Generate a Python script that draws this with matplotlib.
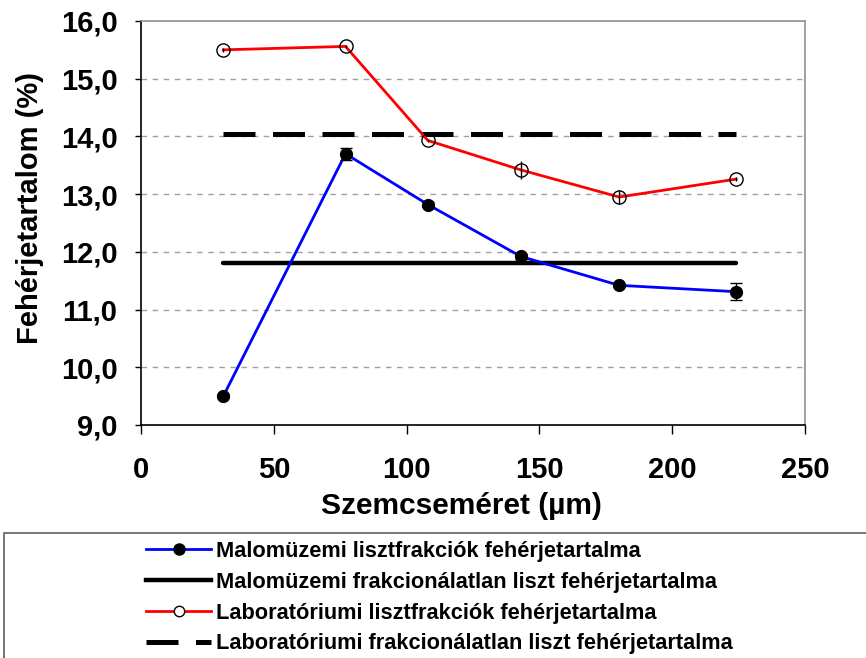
import matplotlib
matplotlib.use("Agg")
import matplotlib.pyplot as plt
import matplotlib.ticker as ticker
from matplotlib.patches import Rectangle
from matplotlib.lines import Line2D

# ---- data
particle_size = [31, 77, 108, 143, 180, 224]

mill_protein = [9.50, 13.70, 12.82, 11.92, 11.42, 11.31]
mill_err = [0.03, 0.10, 0.05, 0.04, 0.03, 0.15]

lab_protein = [15.50, 15.56, 13.93, 13.42, 12.95, 13.26]
lab_err = [0.03, 0.03, 0.03, 0.15, 0.12, 0.03]

mill_unfractionated = 11.80
lab_unfractionated = 14.05

labels = ["Malomüzemi lisztfrakciók fehérjetartalma",
          "Malomüzemi frakcionálatlan liszt fehérjetartalma",
          "Laboratóriumi lisztfrakciók fehérjetartalma",
          "Laboratóriumi frakcionálatlan liszt fehérjetartalma"]

###########################################################################

plt.rcParams['font.family'] = ['Liberation Sans', 'DejaVu Sans']
plt.rcParams['font.weight'] = 'bold'

W, H = 866, 658
fig = plt.figure(figsize=(W / 100, H / 100), dpi=100)
ax = fig.add_axes([141 / W, 1 - 425 / H, (805 - 141) / W, (425 - 21) / H])

# horizontal reference lines (unfractionated flour)
ax.plot([particle_size[0], particle_size[-1]], [mill_unfractionated] * 2,
        color='black', lw=3.2, solid_capstyle='round', zorder=3)
ax.plot([particle_size[0], particle_size[-1]], [lab_unfractionated] * 2,
        color='black', lw=3.6, dashes=(6.4, 3.5), zorder=3)

# fractions
ax.plot(particle_size, mill_protein, color='blue', lw=2.0, zorder=4)
ax.errorbar(particle_size, mill_protein, yerr=mill_err, fmt='o', color='black',
            ms=8.5, ecolor='black', elinewidth=1, capsize=4, capthick=1, zorder=5)

ax.plot(particle_size, lab_protein, color='red', lw=2.0, zorder=4)
ax.errorbar(particle_size, lab_protein, yerr=lab_err, fmt='o', mfc='none',
            mec='black', mew=1, ms=9.5, ecolor='black', elinewidth=1,
            capsize=0, zorder=5)

ax.set_xlim(0, 250)
ax.set_ylim(9, 16)
ax.xaxis.set_major_locator(ticker.MultipleLocator(50))
ax.yaxis.set_major_locator(ticker.MultipleLocator(1))
ax.yaxis.set_major_formatter(ticker.FuncFormatter(lambda v, p: ('%.1f' % v).replace('.', ',')))
ax.tick_params(axis='both', labelsize=21, direction='out', width=1, color='black')
ax.tick_params(axis='y', length=4.5, pad=12.5)
ax.tick_params(axis='x', length=6.5, pad=16)

for y in range(10, 16):
    ax.axhline(y, color='#a0a0a0', lw=1, dashes=(4, 4), zorder=1)

ax.spines['left'].set_color('black')
ax.spines['bottom'].set_color('black')
ax.spines['top'].set_color('#909090')
ax.spines['right'].set_color('#909090')
for s in ax.spines.values():
    s.set_linewidth(1.2)

ax.set_xlabel('Szemcseméret (µm)', fontsize=21.5, fontweight='bold')
ax.set_ylabel('Fehérjetartalom (%)', fontsize=21, fontweight='bold')
ax.xaxis.set_label_coords(0.483, -0.165)
ax.yaxis.set_label_coords(-0.146, 0.537)

# ---- legend in a box that runs off the figure
fig.patches.append(Rectangle((4 / W, -0.05), 1.0, 0.05 + (H - 533) / H,
                             transform=fig.transFigure, fill=False,
                             edgecolor='#606060', lw=1.2))

handles = [Line2D([], [], color='blue', lw=2.0, marker='o', mfc='black', mec='black', ms=8),
           Line2D([], [], color='black', lw=3.2),
           Line2D([], [], color='red', lw=2.0, marker='o', mfc='white', mec='black', ms=7.5),
           Line2D([], [], color='black', lw=3.6, dashes=(6.4, 3.5))]
fig.legend(handles, labels, loc='upper left', bbox_to_anchor=(146 / W, 1 - 541 / H),
           frameon=False, fontsize=15.7, handlelength=3.0, handletextpad=0.22,
           labelspacing=0.45, borderpad=0, borderaxespad=0)

fig.savefig('out.png', dpi=100)
